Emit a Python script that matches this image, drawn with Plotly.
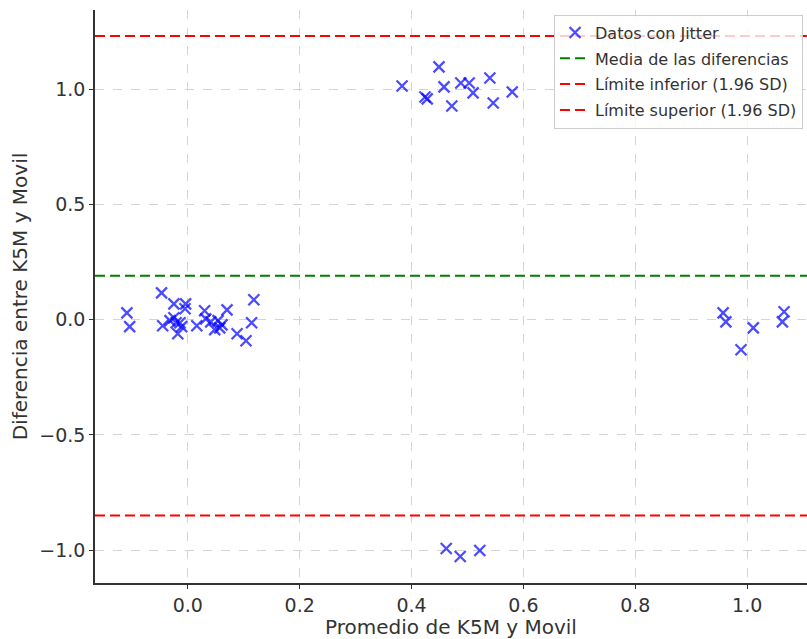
import plotly.graph_objects as go

# Bland-Altman style comparison: K5M vs Movil, with jittered points
promedio = [
    -0.109, -0.104, -0.047, -0.045, -0.032, -0.025, -0.025, -0.021, -0.014, -0.018,
    -0.011, -0.004, -0.005, 0.016, 0.030, 0.032, 0.041, 0.048, 0.054, 0.061,
    0.057, 0.070, 0.088, 0.104, 0.118, 0.114,
    0.383, 0.424, 0.428, 0.449, 0.458, 0.472, 0.488, 0.503, 0.510, 0.540, 0.546, 0.580,
    0.957, 0.962, 1.011, 0.989, 1.066, 1.063,
    0.462, 0.487, 0.522,
]
diferencia = [
    0.030, -0.030, 0.117, -0.026, -0.004, 0.069, 0.009, -0.013, -0.013, -0.061,
    -0.030, 0.069, 0.048, -0.026, 0.039, 0.004, -0.009, -0.043, -0.004, -0.022,
    -0.035, 0.043, -0.061, -0.091, 0.087, -0.013,
    1.015, 0.967, 0.959, 1.098, 1.011, 0.928, 1.028, 1.028, 0.985, 1.050, 0.941, 0.989,
    0.030, -0.009, -0.035, -0.130, 0.035, -0.009,
    -0.993, -1.028, -1.002,
]

media_dif = 0.191
sd_dif = 0.531
lim_inf = media_dif - 1.96 * sd_dif
lim_sup = media_dif + 1.96 * sd_dif

x_range = [-0.166, 1.107]
y_range = [-1.143, 1.345]
x_ticks = [0.0, 0.2, 0.4, 0.6, 0.8, 1.0]
y_ticks = [-1.0, -0.5, 0.0, 0.5, 1.0]

FONT = "DejaVu Sans"
TXT = "#333333"

fig = go.Figure()

fig.add_trace(go.Scatter(
    x=promedio, y=diferencia, mode="markers", name="Datos con Jitter",
    legendgroup="g0",
    marker=dict(symbol="x-thin", size=11, color="rgba(0,0,255,0.7)",
                line=dict(width=2.3, color="rgba(0,0,255,0.7)")),
    showlegend=True,
))

lines = [
    (media_dif, "green", "Media de las diferencias"),
    (lim_inf, "red", "Límite inferior (1.96 SD)"),
    (lim_sup, "red", "Límite superior (1.96 SD)"),
]
for i, (val, col, name) in enumerate(lines):
    fig.add_shape(type="line", xref="paper", x0=0, x1=1, yref="y", y0=val, y1=val,
                  line=dict(color=col, width=2, dash="10px,5px"),
                  showlegend=True, name=name, legendgroup=f"g{i + 1}",
                  legendrank=1001 + i, layer="above")

axis_common = dict(
    showgrid=True, gridcolor="#d4d4d4", griddash="dash", gridwidth=1,
    showline=True, linecolor="#333333", linewidth=1.5,
    ticks="outside", ticklen=4, tickcolor="#333333",
    tickfont=dict(family=FONT, size=19, color=TXT),
    zeroline=False, mirror=False,
)

fig.update_xaxes(range=x_range, tickvals=x_ticks, ticktext=[f"{v:.1f}" for v in x_ticks],
                 title=dict(text="Promedio de K5M y Movil", font=dict(family=FONT, size=20, color=TXT),
                            standoff=6),
                 **axis_common)
fig.update_yaxes(range=y_range, tickvals=y_ticks,
                 ticktext=[f"{v:.1f}".replace("-", "\u2212") for v in y_ticks],
                 title=dict(text="Diferencia entre K5M y Movil", font=dict(family=FONT, size=20, color=TXT),
                            standoff=6),
                 **axis_common)

fig.update_layout(
    width=807, height=639,
    margin=dict(l=95, r=0, t=10, b=56),
    paper_bgcolor="white", plot_bgcolor="white",
    font=dict(family=FONT, color=TXT),
    legend=dict(x=0.9944, y=0.992, xanchor="right", yanchor="top",
                bgcolor="rgba(255,255,255,0.8)", bordercolor="#cccccc", borderwidth=1,
                font=dict(family=FONT, size=16, color=TXT),
                traceorder="grouped", tracegroupgap=2),
)

fig.write_html("out.html")
